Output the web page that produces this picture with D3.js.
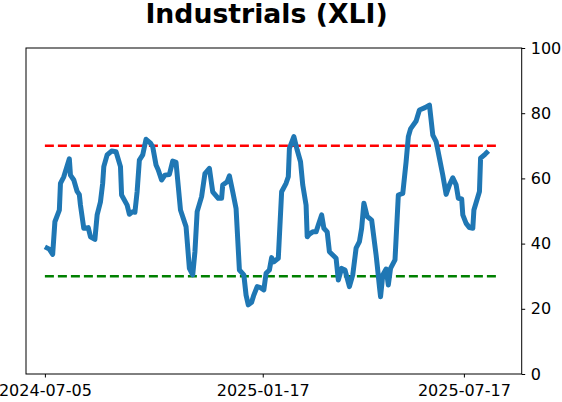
<!DOCTYPE html>
<html>
<head>
<meta charset="utf-8">
<script src="https://cdn.jsdelivr.net/npm/d3@7"></script>
<style>
  body { margin: 0; background: #fff; }
  svg { font-family: "DejaVu Sans", sans-serif; }
</style>
</head>
<body>
<svg id="chart" width="562" height="402"></svg>
<script>
// values
const dates = [
  "2024-07-05","2024-07-09","2024-07-12","2024-07-14","2024-07-18","2024-07-19","2024-07-22","2024-07-27",
  "2024-07-28","2024-07-31","2024-08-03","2024-08-05","2024-08-06","2024-08-09","2024-08-13","2024-08-15",
  "2024-08-19","2024-08-21","2024-08-24","2024-08-26","2024-08-27","2024-08-30","2024-09-03","2024-09-07",
  "2024-09-11","2024-09-12","2024-09-17","2024-09-19","2024-09-22","2024-09-24","2024-09-26","2024-09-28",
  "2024-10-01","2024-10-04","2024-10-08","2024-10-10","2024-10-13","2024-10-15","2024-10-18","2024-10-21",
  "2024-10-25","2024-10-28","2024-10-31","2024-11-04","2024-11-09","2024-11-12","2024-11-15","2024-11-17",
  "2024-11-19","2024-11-23","2024-11-26","2024-11-30","2024-12-03","2024-12-08","2024-12-11","2024-12-12",
  "2024-12-16","2024-12-18","2024-12-21","2024-12-24","2024-12-27","2024-12-31","2025-01-02","2025-01-04",
  "2025-01-07","2025-01-09","2025-01-12","2025-01-15","2025-01-18","2025-01-20","2025-01-23","2025-01-25",
  "2025-01-27","2025-01-31","2025-02-03","2025-02-07","2025-02-09","2025-02-10","2025-02-14","2025-02-17",
  "2025-02-20","2025-02-22","2025-02-25","2025-02-26","2025-02-28","2025-03-03","2025-03-06","2025-03-08",
  "2025-03-11","2025-03-13","2025-03-16","2025-03-18","2025-03-21","2025-03-24","2025-03-26","2025-03-29",
  "2025-04-01","2025-04-05","2025-04-08","2025-04-11","2025-04-14","2025-04-16","2025-04-18","2025-04-21",
  "2025-04-25","2025-04-29","2025-04-30","2025-05-02","2025-05-03","2025-05-05","2025-05-08","2025-05-10",
  "2025-05-12","2025-05-16","2025-05-19","2025-05-23","2025-05-26","2025-05-28","2025-05-30","2025-06-04",
  "2025-06-07","2025-06-12","2025-06-16","2025-06-19","2025-06-22","2025-06-25","2025-06-28","2025-07-01",
  "2025-07-04","2025-07-07","2025-07-10","2025-07-12","2025-07-15","2025-07-16","2025-07-19","2025-07-22",
  "2025-07-25","2025-07-26","2025-07-31","2025-08-01","2025-08-05","2025-08-08"
];
const values = [
  39, 38.3, 36.7, 46.7, 50.3, 58.5, 60.5, 66,
  61, 59.5, 56, 55, 51.8, 44.7, 44.9, 42.1,
  41.3, 48.8, 52.8, 58.5, 63.6, 67.2, 68.4, 68.2,
  63.6, 54.9, 51.8, 49, 49.8, 49.6, 56, 65.6,
  67.2, 72, 70.8, 69.7, 64.1, 62.6, 59.5, 61,
  61.2, 65.3, 64.9, 50.3, 45.2, 32.4, 30.4, 37.5,
  49.8, 54.4, 61.5, 63.1, 55.9, 53.9, 53.9, 58,
  59, 60.8, 55.9, 50.8, 31.9, 30.4, 24.2, 21.2,
  22, 24.2, 26.8, 26.5, 25.8, 30.9, 31.9, 35.7,
  34.4, 35.5, 55.9, 58.5, 60.5, 69.2, 72.8, 68.7,
  65.1, 58, 51.8, 42.1, 42.9, 43.6, 43.6, 45.7,
  48.8, 44.7, 43.6, 37.5, 36.5, 35.5, 28.8, 32.4,
  31.9, 26.8, 30.4, 38.6, 40.6, 44.7, 52.4, 48.3,
  47.2, 36.5, 33.4, 26.8, 23.7, 30.4, 32.2, 27.3,
  32.4, 35, 54.9, 55.4, 65.1, 72.8, 75.2, 77.6,
  81, 81.7, 82.5, 73.3, 71.3, 66.2, 61, 55.1,
  58, 60.2, 58, 53.9, 53.7, 48.8, 46.2, 44.9,
  44.7, 50.3, 56, 66.2, 67.4, 68.4
];
const xTicks = ["2024-07-05", "2025-01-17", "2025-07-17"];
const yTicks = [0, 20, 40, 60, 80, 100];
const upperLevel = 70;
const lowerLevel = 30;
const levelSpan = ["2024-07-05", "2025-08-17"];
const xDomain = ["2024-06-18", "2025-09-07"];

const parse = d3.timeParse("%Y-%m-%d");
const fmt = d3.timeFormat("%Y-%m-%d");
const data = dates.map((d, i) => ({ date: parse(d), value: values[i] }));

const svg = d3.select("#chart");
const m = { left: 26, right: 521.7, top: 48, bottom: 374 };

const x = d3.scaleTime().domain(xDomain.map(parse)).range([m.left, m.right]);
const y = d3.scaleLinear().domain([0, 100]).range([m.bottom, m.top]);

// title
svg.append("text")
  .attr("x", 266.5).attr("y", 23)
  .attr("text-anchor", "middle")
  .attr("font-size", "26.7px").attr("font-weight", "bold")
  .text("Industrials (XLI)");

// threshold lines
[[upperLevel, "#ff0000"], [lowerLevel, "#008000"]].forEach(([lv, col]) => {
  svg.append("line")
    .attr("x1", x(parse(levelSpan[0]))).attr("x2", x(parse(levelSpan[1])))
    .attr("y1", y(lv)).attr("y2", y(lv))
    .attr("stroke", col).attr("stroke-width", 2.5)
    .attr("stroke-dasharray", "9,4");
});

// series
const line = d3.line().x(d => x(d.date)).y(d => y(d.value));
svg.append("path")
  .datum(data)
  .attr("d", line)
  .attr("fill", "none")
  .attr("stroke", "#1f77b4")
  .attr("stroke-width", 5)
  .attr("stroke-linejoin", "round")
  .attr("stroke-linecap", "butt");

// frame
svg.append("rect")
  .attr("x", m.left).attr("y", m.top)
  .attr("width", m.right - m.left).attr("height", m.bottom - m.top)
  .attr("fill", "none").attr("stroke", "#000").attr("stroke-width", 1);

// x axis
const xAxis = svg.append("g")
  .attr("transform", `translate(0,${m.bottom})`)
  .call(d3.axisBottom(x).tickValues(xTicks.map(parse)).tickFormat(fmt).tickSize(3.5).tickSizeOuter(0));
xAxis.select(".domain").remove();
xAxis.selectAll("text").attr("font-size", "16px").attr("font-family", "DejaVu Sans").attr("dy", "0.95em").attr("fill", "#000");

// y axis on the right
const yAxis = svg.append("g")
  .attr("transform", `translate(${m.right},0)`)
  .call(d3.axisRight(y).tickValues(yTicks).tickSize(3.5).tickPadding(5.5).tickSizeOuter(0));
yAxis.select(".domain").remove();
yAxis.selectAll("text").attr("font-size", "16px").attr("font-family", "DejaVu Sans").attr("fill", "#000");
</script>
</body>
</html>
